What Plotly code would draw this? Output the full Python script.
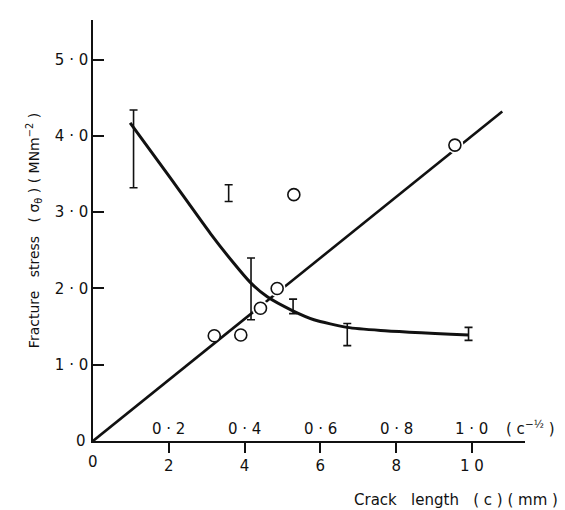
import plotly.graph_objects as go

# straight line (sigma vs c^-1/2)
line_x = [0.0, 10.8]
line_y = [0.0, 4.32]

# open circles
circ_x = [3.2, 3.9, 4.42, 4.86, 5.3, 9.55]
circ_y = [1.38, 1.39, 1.74, 2.0, 3.23, 3.88]
on_line = [False, False, True, True, False, True]

# curve (sigma vs crack length)
curve_x = [0.98, 2.04, 3.10, 3.70, 4.15, 4.60, 5.26, 5.83, 6.71, 7.59, 9.91]
curve_y = [4.17, 3.45, 2.72, 2.34, 2.08, 1.89, 1.71, 1.59, 1.49, 1.45, 1.39]

# error bars
err_x = [1.07, 3.58, 4.17, 5.28, 6.71, 9.91]
err_lo = [3.32, 3.14, 1.59, 1.67, 1.25, 1.32]
err_hi = [4.34, 3.36, 2.40, 1.86, 1.54, 1.49]

x_ticks = [2, 4, 6, 8, 10]
x_ticktext = ["2", "4", "6", "8", "1 0"]
top_ticktext = ["0 · 2", "0 · 4", "0 · 6", "0 · 8", "1 · 0"]
y_ticks = [1, 2, 3, 4, 5]
y_ticktext = ["1 · 0", "2 · 0", "3 · 0", "4 · 0", "5 · 0"]

FONT = "DejaVu Sans"
ink = "#111111"

err_mid = [(a + b) / 2 for a, b in zip(err_lo, err_hi)]
err_plus = [b - m for b, m in zip(err_hi, err_mid)]
err_minus = [m - a for a, m in zip(err_lo, err_mid)]

bx = [x for x, f in zip(circ_x, on_line) if f]
by = [y for y, f in zip(circ_y, on_line) if f]

fig = go.Figure()
fig.add_trace(go.Scatter(x=line_x, y=line_y, mode="lines",
                         line=dict(color=ink, width=2.6), hoverinfo="skip"))
fig.add_trace(go.Scatter(x=bx, y=by, mode="markers",
                         marker=dict(size=17, color="white", line=dict(width=0))))
fig.add_trace(go.Scatter(x=curve_x, y=curve_y, mode="lines",
                         line=dict(color=ink, width=3, shape="spline", smoothing=0.6),
                         hoverinfo="skip"))
fig.add_trace(go.Scatter(x=err_x, y=err_mid, mode="markers",
                         marker=dict(size=1, color="rgba(0,0,0,0)"),
                         error_y=dict(type="data", symmetric=False, array=err_plus,
                                      arrayminus=err_minus, color=ink, thickness=1.6, width=4)))
fig.add_trace(go.Scatter(x=circ_x, y=circ_y, mode="markers",
                         marker=dict(size=12, color="white", line=dict(color=ink, width=1.6))))

f15 = dict(family=FONT, size=15, color=ink)
annotations = []
for xv, t in zip(x_ticks, top_ticktext):
    annotations.append(dict(x=xv, y=0, xref="x", yref="y", text=t, showarrow=False,
                            yanchor="bottom", yshift=1, font=f15))
annotations.append(dict(x=10.85, y=0, xref="x", yref="y", text="( c<sup>−½</sup> )", showarrow=False,
                        xanchor="left", yanchor="bottom", yshift=1, font=f15))
annotations.append(dict(x=0, y=0, xref="x", yref="y", text="0", showarrow=False,
                        yanchor="top", yshift=-10, font=f15))
annotations.append(dict(x=0, y=0, xref="x", yref="y", text="0", showarrow=False,
                        xanchor="right", xshift=-5, font=f15))
annotations.append(dict(x=1 + (560 - 525) / 432.0, y=-(500 - 441) / 421.0,
                        xref="paper", yref="paper", text="Crack   length   ( c ) ( mm )",
                        showarrow=False, xanchor="right", yanchor="middle",
                        font=dict(family=FONT, size=15, color=ink)))

fig.update_layout(
    width=565, height=510,
    margin=dict(l=93, r=40, t=20, b=69),
    plot_bgcolor="white", paper_bgcolor="white",
    showlegend=False,
    annotations=annotations,
    xaxis=dict(range=[0, 11.4], tickvals=x_ticks, ticktext=x_ticktext,
               ticks="outside", ticklen=10, tickwidth=1.5, tickcolor=ink,
               showline=True, linecolor=ink, linewidth=1.5, showgrid=False, zeroline=False,
               tickfont=f15),
    yaxis=dict(range=[0, 5.52], tickvals=y_ticks, ticktext=y_ticktext,
               ticks="inside", ticklen=11, tickwidth=1.5, tickcolor=ink,
               showline=True, linecolor=ink, linewidth=1.5, showgrid=False, zeroline=False,
               tickfont=f15,
               title=dict(text="Fracture   stress   ( σ<sub>θ</sub> ) ( MNm<sup>−2</sup> )",
                          font=dict(family=FONT, size=14, color=ink), standoff=12)),
)

fig.write_html("out.html")
